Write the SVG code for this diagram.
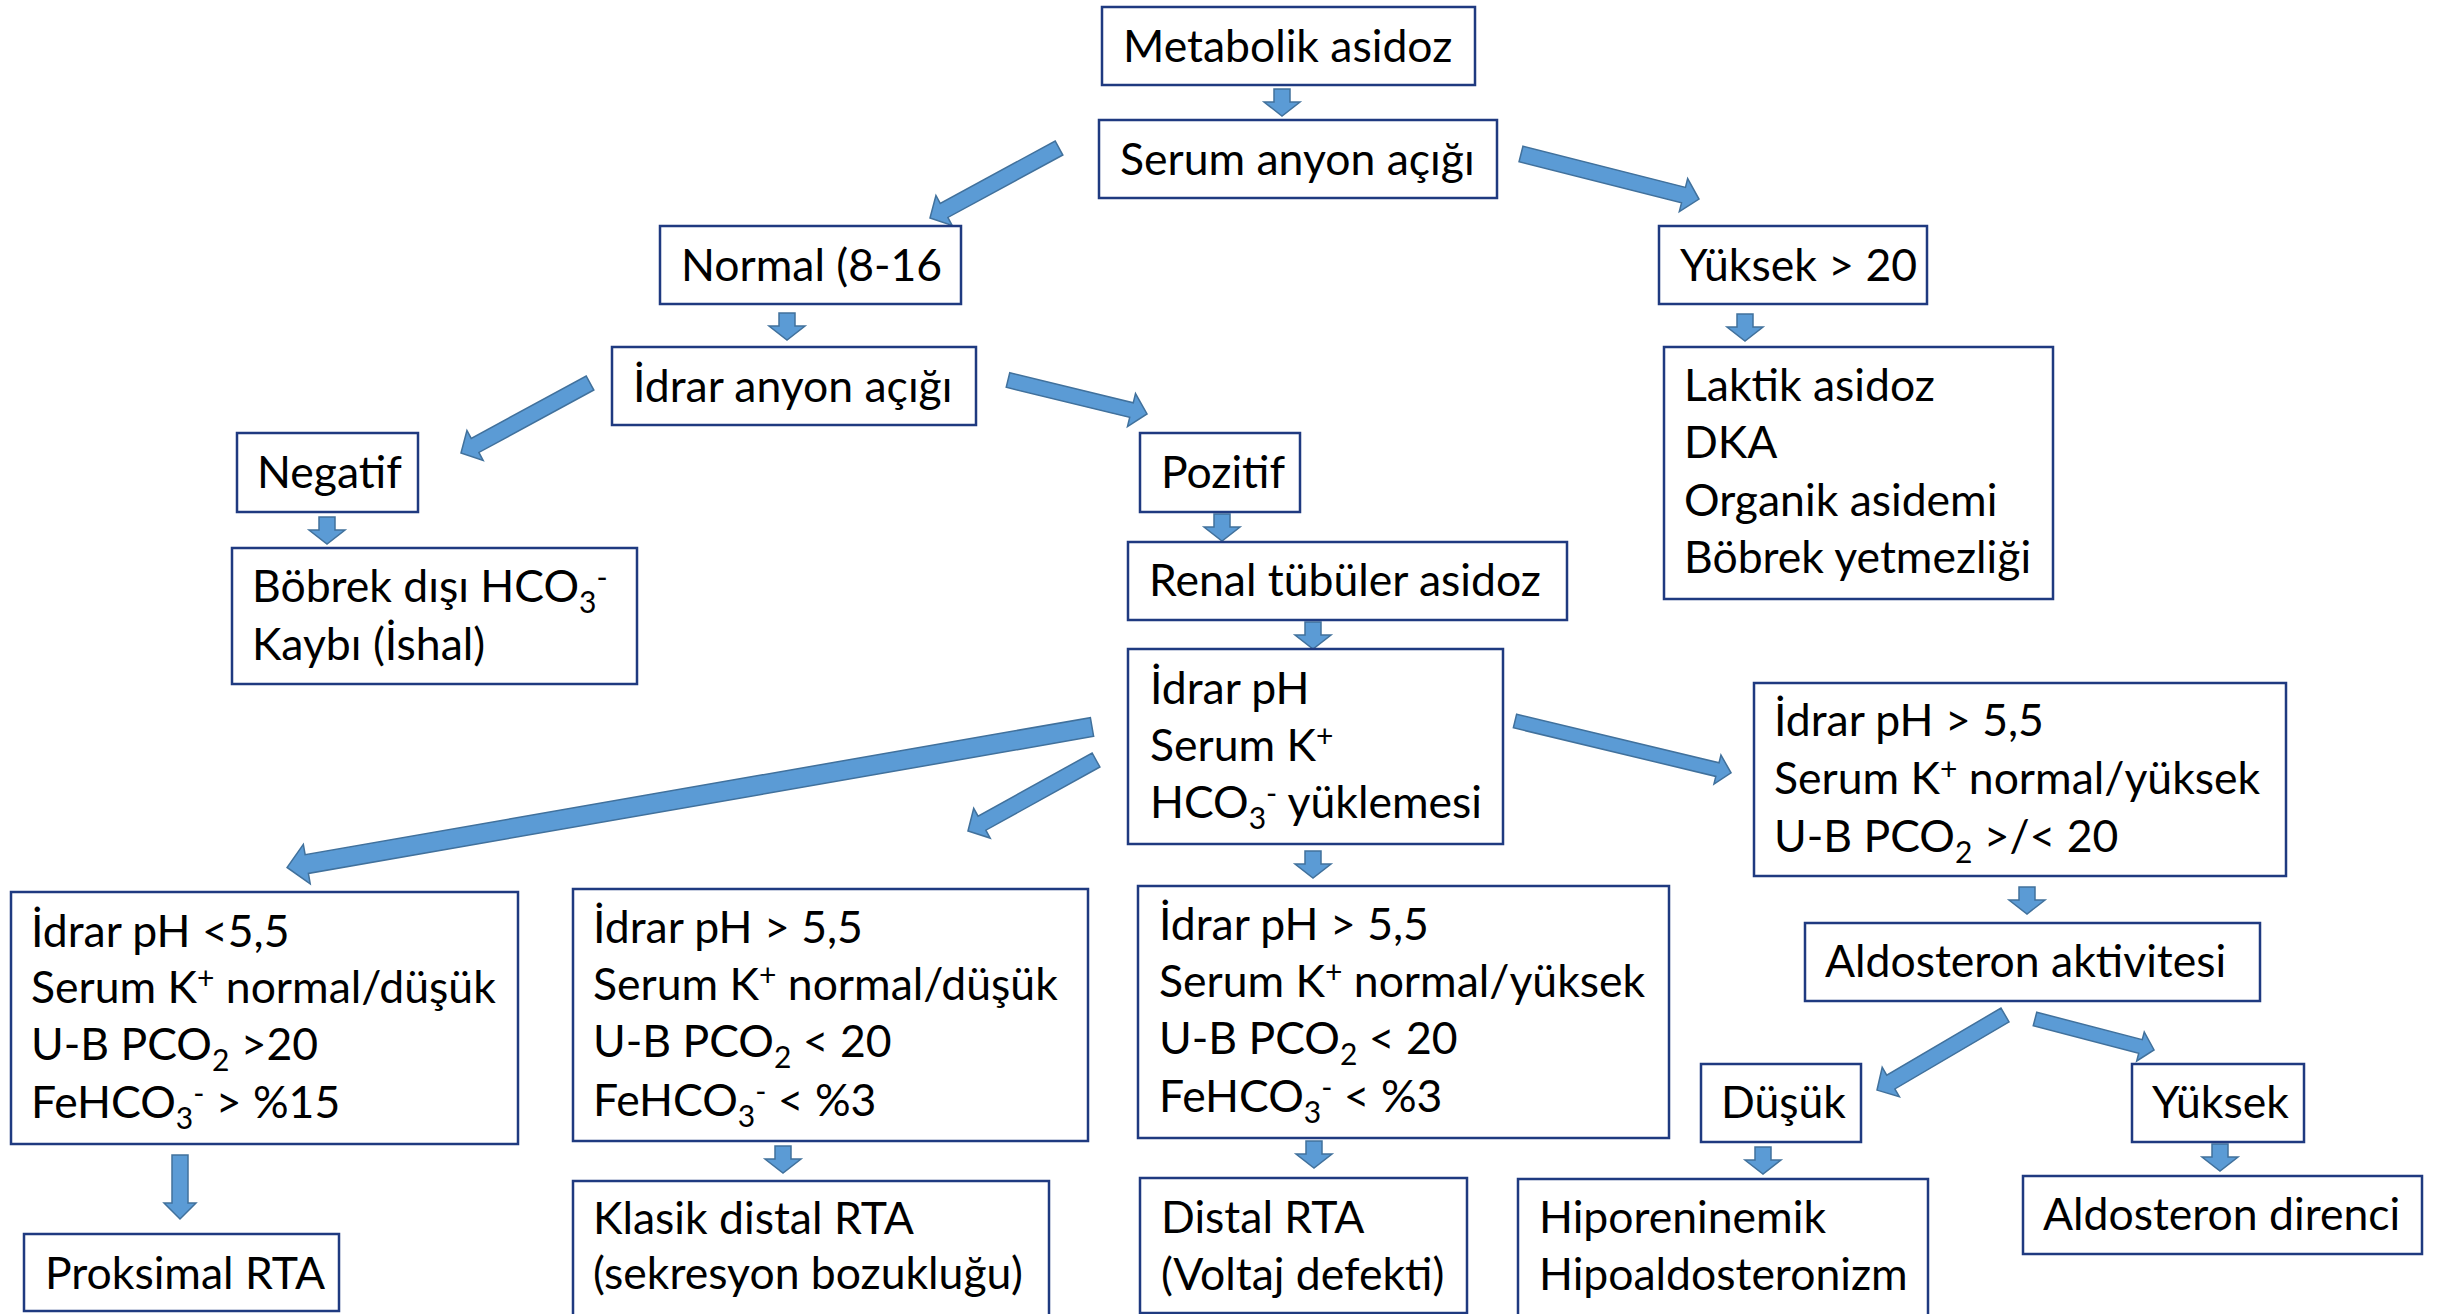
<svg xmlns="http://www.w3.org/2000/svg" xmlns:xlink="http://www.w3.org/1999/xlink" width="2443" height="1314" viewBox="0 0 2443 1314">
<style>
.box{fill:#fff;stroke:#1F3A80;stroke-width:2.5}
.t{font-family:Lato,"Open Sans","Liberation Sans",sans-serif;font-size:44.5px;fill:#000}
.s{font-size:30px}
.arr{fill:#5B9BD5;stroke:#41719C;stroke-width:1.5;stroke-linejoin:miter}
</style>
<defs>
<path id="da" class="arr" d="M-8,0 H8 V13 H18 L0,27 L-18,13 H-8 Z"/>
<path id="bda" class="arr" d="M-8,0 H8 V48 H16 L0,64 L-16,48 H-8 Z"/>
</defs>
<rect width="2443" height="1314" fill="#fff"/>
<g id="connectors">
<use href="#da" x="1282" y="89"/>
<use href="#da" x="787" y="313"/>
<use href="#da" x="327" y="517"/>
<use href="#da" x="1745" y="314"/>
<use href="#da" x="1222" y="514"/>
<use href="#da" x="1313" y="622"/>
<use href="#da" x="1313" y="851"/>
<use href="#da" x="2027" y="887"/>
<use href="#da" x="783" y="1146"/>
<use href="#da" x="1314" y="1141"/>
<use href="#da" x="1763" y="1147"/>
<use href="#da" x="2220" y="1144"/>
<use href="#bda" x="180" y="1155"/>
<path class="arr" transform="translate(1059,148) rotate(151.5)" d="M0,-8 H130.8 V-17 L146.8,0 L130.8,17 V8 H0 Z"/>
<path class="arr" transform="translate(1521,154) rotate(14.2)" d="M0,-8 H167.6 V-17 L183.6,0 L167.6,17 V8 H0 Z"/>
<path class="arr" transform="translate(590,383) rotate(151.5)" d="M0,-8 H130.8 V-17 L146.8,0 L130.8,17 V8 H0 Z"/>
<path class="arr" transform="translate(1008,380) rotate(13.7)" d="M0,-7.5 H127.1 V-17 L143.1,0 L127.1,17 V7.5 H0 Z"/>
<path class="arr" transform="translate(1092,727) rotate(170.1)" d="M0,-9.5 H797.1 V-20 L817.1,0 L797.1,20 V9.5 H0 Z"/>
<path class="arr" transform="translate(1096,760) rotate(151)" d="M0,-8 H130.4 V-17 L146.4,0 L130.4,17 V8 H0 Z"/>
<path class="arr" transform="translate(1515,721) rotate(13.5)" d="M0,-7 H208.2 V-15 L222.2,0 L208.2,15 V7 H0 Z"/>
<path class="arr" transform="translate(2005,1015) rotate(149.6)" d="M0,-8 H132.4 V-17 L148.4,0 L132.4,17 V8 H0 Z"/>
<path class="arr" transform="translate(2035,1019) rotate(14.6)" d="M0,-7 H109 V-15 L123,0 L109,15 V7 H0 Z"/>
</g>
<g id="n-metabolik"><rect class="box" x="1102" y="7" width="373" height="78"/><text class="t" x="1123" y="62">Metabolik asidoz</text></g>
<g id="n-serum"><rect class="box" x="1099" y="120" width="398" height="78"/><text class="t" x="1120" y="175">Serum anyon açığı</text></g>
<g id="n-normal"><rect class="box" x="660" y="226" width="301" height="78"/><text class="t" x="681" y="281">Normal (8-16</text></g>
<g id="n-yuksek20"><rect class="box" x="1659" y="226" width="268" height="78"/><text class="t" x="1680" y="281">Yüksek &gt; 20</text></g>
<g id="n-idrar-anyon"><rect class="box" x="612" y="347" width="364" height="78"/><text class="t" x="633" y="402">İdrar anyon açığı</text></g>
<g id="n-negatif"><rect class="box" x="237" y="433" width="181" height="79"/><text class="t" x="257" y="488">Negatif</text></g>
<g id="n-pozitif"><rect class="box" x="1140" y="433" width="160" height="79"/><text class="t" x="1161" y="488">Pozitif</text></g>
<g id="n-bobrek-disi"><rect class="box" x="232" y="548" width="405" height="136"/>
<text class="t" x="252" y="602">Böbrek dışı HCO<tspan class="s" y="613">3</tspan><tspan class="s" y="588">-</tspan></text>
<text class="t" x="252" y="660">Kaybı (İshal)</text></g>
<g id="n-laktik"><rect class="box" x="1664" y="347" width="389" height="252"/>
<text class="t" x="1684" y="401">Laktik asidoz</text>
<text class="t" x="1684" y="458">DKA</text>
<text class="t" x="1684" y="516">Organik asidemi</text>
<text class="t" x="1684" y="573">Böbrek yetmezliği</text></g>
<g id="n-renal"><rect class="box" x="1128" y="542" width="439" height="78"/><text class="t" x="1149" y="596">Renal tübüler asidoz</text></g>
<g id="n-idrar-ph"><rect class="box" x="1128" y="649" width="375" height="195"/>
<text class="t" x="1150" y="704">İdrar pH</text>
<text class="t" x="1150" y="761">Serum K<tspan class="s" y="747">+</tspan></text>
<text class="t" x="1150" y="818">HCO<tspan class="s" y="829">3</tspan><tspan class="s" y="804">-</tspan><tspan y="818"> yüklemesi</tspan></text></g>
<g id="n-right"><rect class="box" x="1754" y="683" width="532" height="193"/>
<text class="t" x="1774" y="736">İdrar pH &gt; 5,5</text>
<text class="t" x="1774" y="794">Serum K<tspan class="s" y="780">+</tspan><tspan y="794"> normal/yüksek</tspan></text>
<text class="t" x="1774" y="852">U-B PCO<tspan class="s" y="863">2</tspan><tspan y="852"> &gt;/&lt; 20</tspan></text></g>
<g id="n-a"><rect class="box" x="11" y="892" width="507" height="252"/>
<text class="t" x="31" y="947">İdrar pH &lt;5,5</text>
<text class="t" x="31" y="1003">Serum K<tspan class="s" y="989">+</tspan><tspan y="1003"> normal/düşük</tspan></text>
<text class="t" x="31" y="1060">U-B PCO<tspan class="s" y="1071">2</tspan><tspan y="1060"> &gt;20</tspan></text>
<text class="t" x="31" y="1118">FeHCO<tspan class="s" y="1129">3</tspan><tspan class="s" y="1104">-</tspan><tspan y="1118"> &gt; %15</tspan></text></g>
<g id="n-b"><rect class="box" x="573" y="889" width="515" height="252"/>
<text class="t" x="593" y="943">İdrar pH &gt; 5,5</text>
<text class="t" x="593" y="1000">Serum K<tspan class="s" y="986">+</tspan><tspan y="1000"> normal/düşük</tspan></text>
<text class="t" x="593" y="1057">U-B PCO<tspan class="s" y="1068">2</tspan><tspan y="1057"> &lt; 20</tspan></text>
<text class="t" x="593" y="1116">FeHCO<tspan class="s" y="1127">3</tspan><tspan class="s" y="1102">-</tspan><tspan y="1116"> &lt; %3</tspan></text></g>
<g id="n-mid"><rect class="box" x="1138" y="886" width="531" height="252"/>
<text class="t" x="1159" y="940">İdrar pH &gt; 5,5</text>
<text class="t" x="1159" y="997">Serum K<tspan class="s" y="983">+</tspan><tspan y="997"> normal/yüksek</tspan></text>
<text class="t" x="1159" y="1054">U-B PCO<tspan class="s" y="1065">2</tspan><tspan y="1054"> &lt; 20</tspan></text>
<text class="t" x="1159" y="1112">FeHCO<tspan class="s" y="1123">3</tspan><tspan class="s" y="1098">-</tspan><tspan y="1112"> &lt; %3</tspan></text></g>
<g id="n-aldo-akt"><rect class="box" x="1805" y="923" width="455" height="78"/><text class="t" x="1825" y="977">Aldosteron aktivitesi</text></g>
<g id="n-dusuk"><rect class="box" x="1701" y="1064" width="160" height="78"/><text class="t" x="1721" y="1118">Düşük</text></g>
<g id="n-yuksek"><rect class="box" x="2132" y="1064" width="172" height="78"/><text class="t" x="2152" y="1118">Yüksek</text></g>
<g id="n-aldo-direnci"><rect class="box" x="2023" y="1176" width="399" height="78"/><text class="t" x="2043" y="1230">Aldosteron direnci</text></g>
<g id="n-proksimal"><rect class="box" x="24" y="1234" width="315" height="77"/><text class="t" x="45" y="1289">Proksimal RTA</text></g>
<g id="n-klasik"><rect class="box" x="573" y="1181" width="476" height="140"/>
<text class="t" x="593" y="1234">Klasik distal RTA</text>
<text class="t" x="593" y="1289">(sekresyon bozukluğu)</text></g>
<g id="n-distal"><rect class="box" x="1140" y="1178" width="327" height="135"/>
<text class="t" x="1161" y="1233">Distal RTA</text>
<text class="t" x="1161" y="1290">(Voltaj defekti)</text></g>
<g id="n-hipo"><rect class="box" x="1518" y="1179" width="410" height="140"/>
<text class="t" x="1539" y="1233">Hiporeninemik</text>
<text class="t" x="1539" y="1290">Hipoaldosteronizm</text></g>
</svg>
